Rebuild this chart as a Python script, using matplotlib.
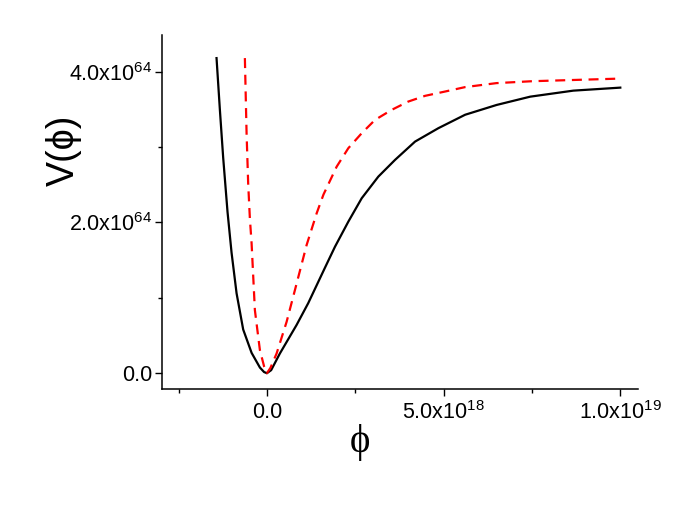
import matplotlib
matplotlib.use("Agg")
import matplotlib.pyplot as plt
from matplotlib.ticker import FixedLocator, FuncFormatter
import numpy as np

plt.rcParams["font.family"] = ["Liberation Sans", "DejaVu Sans"]
plt.rcParams["mathtext.fontset"] = "custom"
plt.rcParams["mathtext.rm"] = "Liberation Sans"
plt.rcParams["mathtext.it"] = "Liberation Sans:italic"

# solid black curve (phi in units of 1e18, V in units of 1e64)
phi_black = [-1.425, -1.331, -1.237, -1.114, -1.0, -0.858, -0.671, -0.433,
             -0.198, -0.08, 0.0, 0.12, 0.368, 0.84, 1.17, 1.643, 1.926,
             2.304, 2.683, 3.153, 3.626, 4.193, 4.853, 5.609, 6.5, 7.45,
             8.67, 10.0]
v_black = [4.182, 3.50, 2.86, 2.14, 1.60, 1.06, 0.58, 0.27,
           0.075, 0.015, 0.0, 0.04, 0.262, 0.64, 0.93, 1.40, 1.678,
           2.011, 2.322, 2.609, 2.831, 3.074, 3.252, 3.43, 3.56, 3.67,
           3.75, 3.79]

# dashed red curve
phi_red = [-0.623, -0.575, -0.53, -0.482, -0.433, -0.34, -0.198, -0.076,
           0.0, 0.1, 0.275, 0.558, 0.793, 1.124, 1.408, 1.6, 1.974, 2.304,
           2.683, 3.06, 3.532, 4.0, 4.476, 5.04, 5.609, 6.5, 7.5, 10.0]
v_red = [4.182, 3.185, 2.521, 2.056, 1.724, 0.837, 0.306, 0.084,
         0.0, 0.07, 0.262, 0.682, 1.103, 1.701, 2.122, 2.37, 2.741, 2.986,
         3.185, 3.362, 3.495, 3.605, 3.681, 3.738, 3.797, 3.85, 3.875, 3.91]

x_major = [0.0, 5.0, 10.0]
x_minor = [-2.5, 2.5, 7.5]
y_major = [0.0, 2.0, 4.0]
y_minor = [1.0, 3.0]


def fmt_x(v, pos):
    if v == 0:
        return "0.0"
    if v < 10:
        return "%.1fx10$^{18}$" % v
    return "%.1fx10$^{19}$" % (v / 10.0)


def fmt_y(v, pos):
    if v == 0:
        return "0.0"
    return "%.1fx10$^{64}$" % v


fig = plt.figure(figsize=(6.98, 5.13), dpi=100)
ax = fig.add_axes([0.232, 0.2417, 0.682, 0.6903])

ax.plot(np.array(phi_black), np.array(v_black), color="black", lw=1.6)
ax.plot(np.array(phi_red), np.array(v_red), color="red", lw=1.6,
        dashes=(4.5, 3))

ax.set_xlim(-2.97, 10.5)
ax.set_ylim(-0.21, 4.49)

for s in ("top", "right"):
    ax.spines[s].set_visible(False)
for s in ("left", "bottom"):
    ax.spines[s].set_linewidth(1.1)

ax.xaxis.set_major_locator(FixedLocator(x_major))
ax.xaxis.set_minor_locator(FixedLocator(x_minor))
ax.yaxis.set_major_locator(FixedLocator(y_major))
ax.yaxis.set_minor_locator(FixedLocator(y_minor))
ax.xaxis.set_major_formatter(FuncFormatter(fmt_x))
ax.yaxis.set_major_formatter(FuncFormatter(fmt_y))

ax.tick_params(which="major", direction="out", length=5, width=1.0,
               labelsize=15.5, pad=2)
ax.tick_params(which="minor", direction="out", length=3, width=1.0)
ax.tick_params(axis="x", which="major", pad=4)

ax.set_ylabel("V(ϕ)", fontsize=27)
ax.yaxis.set_label_coords(-0.168, 0.675)
ax.set_xlabel("ϕ", fontsize=28, family=["Liberation Serif", "DejaVu Serif"])
ax.xaxis.set_label_coords(0.416, -0.10)

fig.savefig("out.png", dpi=100)
